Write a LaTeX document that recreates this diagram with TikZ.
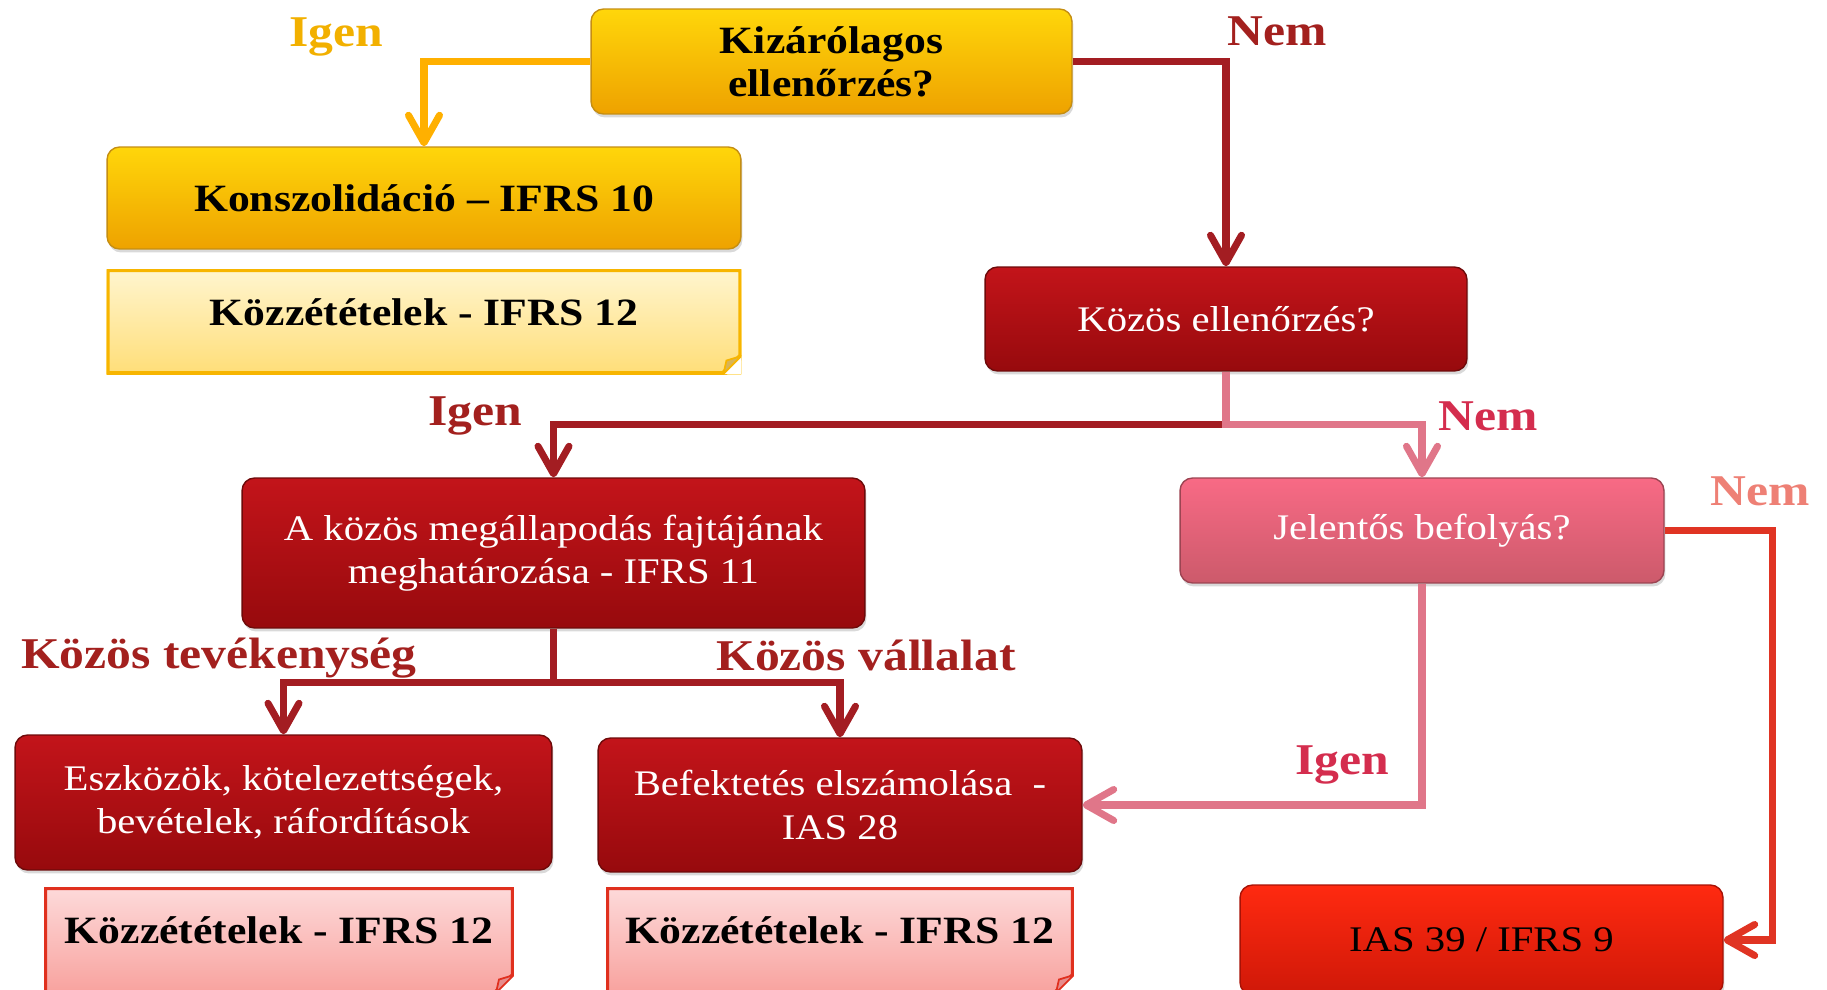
\documentclass[tikz,border=0pt]{standalone}
\usepackage{fontspec}
\setmainfont{Liberation Serif}[FakeStretch=1.13]
\usetikzlibrary{arrows.meta, positioning, shadows}

\definecolor{yellowTop}{HTML}{FFD60A}
\definecolor{yellowBot}{HTML}{EEA200}
\definecolor{yellowEdge}{HTML}{C58E12}
\definecolor{noteYellowTop}{HTML}{FFF5CF}
\definecolor{noteYellowBot}{HTML}{FFDE78}
\definecolor{noteYellowEdge}{HTML}{F7B500}
\definecolor{noteYellowFold}{HTML}{D8B458}
\definecolor{redTop}{HTML}{C3141A}
\definecolor{redBot}{HTML}{970A0D}
\definecolor{redEdge}{HTML}{6E0A0A}
\definecolor{roseTop}{HTML}{F86A85}
\definecolor{roseBot}{HTML}{CC5A6B}
\definecolor{roseEdge}{HTML}{9C4452}
\definecolor{fireTop}{HTML}{FF2A10}
\definecolor{fireBot}{HTML}{CF1808}
\definecolor{fireEdge}{HTML}{A81206}
\definecolor{notePinkTop}{HTML}{FDDADA}
\definecolor{notePinkBot}{HTML}{F8A29E}
\definecolor{notePinkEdge}{HTML}{E0301E}
\definecolor{notePinkFold}{HTML}{E68C8C}
\definecolor{arrowYellow}{HTML}{FFB000}
\definecolor{arrowDark}{HTML}{A31D22}
\definecolor{arrowRose}{HTML}{E07689}
\definecolor{arrowFire}{HTML}{E03423}
\definecolor{lblYellow}{HTML}{F2B000}
\definecolor{lblDark}{HTML}{A3201E}
\definecolor{lblCrimson}{HTML}{D42D4E}
\definecolor{lblSalmon}{HTML}{EE8075}

\begin{document}
\begin{tikzpicture}[x=0.02cm, y=-0.02cm, node distance=0.35cm,
  box/.style={rectangle, rounded corners=0.25cm, align=center, line width=0.8pt,
    font=\fontsize{20.5}{24.5}\selectfont,
    drop shadow={opacity=0.3, shadow xshift=0.03cm, shadow yshift=-0.07cm}},
  yellowbox/.style={box, top color=yellowTop, bottom color=yellowBot, draw=yellowEdge,
    font=\fontsize{22}{24.5}\selectfont\bfseries},
  redbox/.style={box, top color=redTop, bottom color=redBot, draw=redEdge, text=white},
  rosebox/.style={box, top color=roseTop, bottom color=roseBot, draw=roseEdge, text=white},
  firebox/.style={box, top color=fireTop, bottom color=fireBot, draw=fireEdge},
  note/.style 2 args={rectangle, align=center, font=\fontsize{22}{26}\selectfont\bfseries,
    text depth=0.38cm,
    path picture={
      \draw[#1, line width=3.4pt] (path picture bounding box.south west)
        -- (path picture bounding box.north west) -- (path picture bounding box.north east)
        -- ([yshift=0.36cm]path picture bounding box.south east)
        -- ([xshift=-0.36cm]path picture bounding box.south east) -- cycle;
      \fill[white] ([yshift=0.36cm]path picture bounding box.south east)
        -- (path picture bounding box.south east)
        -- ([xshift=-0.36cm]path picture bounding box.south east) -- cycle;
      \filldraw[fill=#2, draw=#1, line width=1pt]
        ([yshift=0.36cm]path picture bounding box.south east)
        -- ([xshift=-0.36cm]path picture bounding box.south east)
        -- ([xshift=-0.3cm, yshift=0.27cm]path picture bounding box.south east) -- cycle;
    }},
  yellownote/.style={note={noteYellowEdge}{noteYellowFold}, top color=noteYellowTop, bottom color=noteYellowBot},
  pinknote/.style={note={notePinkEdge}{notePinkFold}, top color=notePinkTop, bottom color=notePinkBot},
  flow/.style={line width=4pt, -{Straight Barb[length=0.55cm, width=0.62cm, round]}},
  lbl/.style={font=\fontsize{25}{30}\selectfont\bfseries}
]
  \path[use as bounding box] (0,0) rectangle (1827,990);
  \clip (0,0) rectangle (1827,990);

  % Top question
  \node[yellowbox, minimum width=9.62cm, minimum height=2.1cm] (kizar) at (831.5,61.5)
    {Kizárólagos\\ellenőrzés?};
  % Consolidation branch
  \node[yellowbox, minimum width=12.68cm, minimum height=2.04cm] (konsz) at (424,198)
    {Konszolidáció -- IFRS 10};
  \node[yellownote, minimum width=12.7cm, minimum height=2.1cm, below=0.38cm of konsz] (kozzA)
    {Közzétételek - IFRS 12};
  % Joint control
  \node[redbox, minimum width=9.64cm, minimum height=2.08cm] (kozell) at (1226,319)
    {Közös ellenőrzés?};
  \node[redbox, minimum width=12.46cm, minimum height=3cm] (megall) at (553.5,553)
    {A közös megállapodás fajtájának\\meghatározása - IFRS 11};
  \node[rosebox, minimum width=9.68cm, minimum height=2.1cm] (jelentos) at (1422,530.5)
    {Jelentős befolyás?};
  % Bottom row
  \node[redbox, minimum width=10.74cm, minimum height=2.7cm] (eszkoz) at (283.5,802.5)
    {Eszközök, kötelezettségek,\\bevételek, ráfordítások};
  \node[redbox, minimum width=9.68cm, minimum height=2.68cm] (befekt) at (840,805)
    {Befektetés elszámolása~ -\\IAS 28};
  \node[pinknote, minimum width=9.4cm, minimum height=2.12cm, below=0.32cm of eszkoz, xshift=-0.09cm] (kozzB)
    {Közzétételek - IFRS 12};
  \node[pinknote, minimum width=9.36cm, minimum height=2.12cm, below=0.28cm of befekt] (kozzC)
    {Közzétételek - IFRS 12};
  \node[firebox, minimum width=9.66cm, minimum height=2.2cm] (ias) at (1481.5,940)
    {IAS 39 / IFRS 9};

  % Arrows
  \draw[flow, arrowYellow] (kizar.west) -| (konsz.north);
  \draw[flow, arrowDark] (kizar.east) -| (kozell.north);
  \draw[flow, arrowDark] (kozell.south) -- ++(0,53) -| (megall.north);
  \draw[flow, arrowRose] (kozell.south) -- ++(0,53) -| (jelentos.north);
  \draw[flow, arrowDark] (megall.south) -- ++(0,54) -| (eszkoz.north);
  \draw[flow, arrowDark] (megall.south) -- ++(0,54) -| (befekt.north);
  \draw[flow, arrowRose] (jelentos.south) |- (befekt.east);
  \draw[flow, arrowFire] (jelentos.east) -- ++(108,0) |- (ias.east);

  % Labels
  \node[lbl, text=lblYellow] (igenA) at (336,37) {Igen};
  \node[lbl, text=lblDark] (nemA) at (1277,31) {Nem};
  \node[lbl, text=lblDark] (igenB) at (475,416) {Igen};
  \node[lbl, text=lblCrimson] (nemB) at (1488,416) {Nem};
  \node[lbl, text=lblSalmon] (nemC) at (1760,491) {Nem};
  \node[lbl, text=lblDark] (kozTev) at (219,658) {Közös tevékenység};
  \node[lbl, text=lblDark] (kozVal) at (866,655) {Közös vállalat};
  \node[lbl, text=lblCrimson] (igenC) at (1342,765) {Igen};
\end{tikzpicture}
\end{document}
